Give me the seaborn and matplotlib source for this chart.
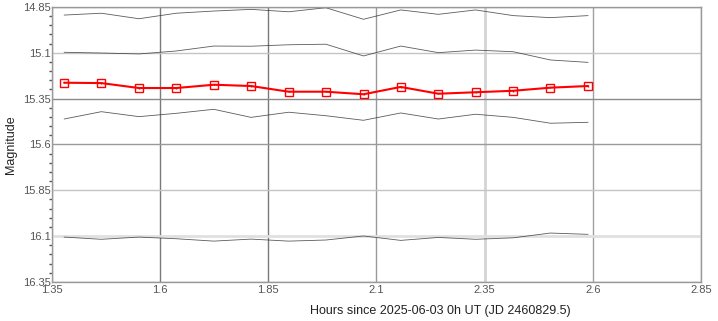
import pandas as pd
import numpy as np
import matplotlib
matplotlib.use("Agg")
import matplotlib.pyplot as plt
import seaborn as sns

# ================================
# Data
# ================================

hours = [1.378, 1.464, 1.551, 1.637, 1.724, 1.810, 1.897, 1.983,
         2.070, 2.156, 2.243, 2.329, 2.416, 2.502, 2.589]

target_mag = [15.263, 15.265, 15.292, 15.292, 15.274, 15.281, 15.312, 15.312,
              15.326, 15.286, 15.323, 15.315, 15.307, 15.290, 15.281]
target_err = [0.004, 0.004, 0.004, 0.004, 0.004, 0.004, 0.004, 0.004,
              0.004, 0.006, 0.004, 0.004, 0.004, 0.004, 0.004]

comp1_mag = [14.894, 14.884, 14.914, 14.884, 14.872, 14.863, 14.876, 14.854,
             14.917, 14.866, 14.890, 14.866, 14.897, 14.908, 14.897]
comp2_mag = [15.097, 15.101, 15.106, 15.090, 15.063, 15.064, 15.056, 15.053,
             15.117, 15.063, 15.099, 15.085, 15.094, 15.139, 15.152]
comp3_mag = [15.461, 15.421, 15.448, 15.430, 15.408, 15.452, 15.424, 15.443,
             15.468, 15.428, 15.461, 15.435, 15.452, 15.484, 15.479]
comp4_mag = [16.105, 16.117, 16.105, 16.114, 16.127, 16.116, 16.127, 16.121,
             16.099, 16.123, 16.107, 16.117, 16.109, 16.083, 16.090]

x_ticks = [1.35, 1.6, 1.85, 2.1, 2.35, 2.6, 2.85]
y_ticks = [14.85, 15.1, 15.35, 15.6, 15.85, 16.1, 16.35]

# ================================
# Long form table
# ================================

comp_df = pd.DataFrame({
    "Hours": hours * 4,
    "Magnitude": comp1_mag + comp2_mag + comp3_mag + comp4_mag,
    "Star": ["C1"] * 15 + ["C2"] * 15 + ["C3"] * 15 + ["C4"] * 15,
})

target_df = pd.DataFrame({"Hours": hours, "Magnitude": target_mag})

# ================================
# Plot
# ================================

sns.set_theme(style="white")
plt.rcParams["font.family"] = ["Liberation Sans", "DejaVu Sans"]

fig, ax = plt.subplots(figsize=(7.18, 3.21), dpi=100)
fig.subplots_adjust(left=52 / 718, right=701 / 718, bottom=1 - 282 / 321, top=1 - 7 / 321)

sns.lineplot(
    data=comp_df, x="Hours", y="Magnitude", units="Star", estimator=None,
    color="#333333", linewidth=0.6, alpha=0.8, ax=ax, legend=False
)

ax.errorbar(hours, target_mag, yerr=target_err, fmt="none",
            ecolor="red", elinewidth=1, capsize=0, zorder=4)

sns.lineplot(
    data=target_df, x="Hours", y="Magnitude", color="red", linewidth=1.5,
    marker="s", markersize=6, markerfacecolor="none", markeredgecolor="red",
    markeredgewidth=1, ax=ax, zorder=5
)

ax.set_xlim(1.35, 2.85)
ax.set_ylim(16.35, 14.85)
ax.set_xticks(x_ticks)
ax.set_xticklabels(["1.35", "1.6", "1.85", "2.1", "2.35", "2.6", "2.85"])
ax.set_yticks(y_ticks)
ax.set_yticklabels(["14.85", "15.1", "15.35", "15.6", "15.85", "16.1", "16.35"])
ax.set_yticks(np.arange(14.85, 16.36, 0.05), minor=True)

ax.grid(True, axis="both", linewidth=1)
x_grid_colors = ["#999999", "#7a7a7a", "#7a7a7a", "#999999", "#d4d4d4", "#a0a0a0", "#999999"]
y_grid_colors = ["#999999", "#c4c4c4", "#8a8a8a", "#9a9a9a", "#c4c4c4", "#e0e0e0", "#999999"]
for line, c in zip(ax.get_xgridlines(), x_grid_colors):
    line.set_color(c)
for line, c in zip(ax.get_ygridlines(), y_grid_colors):
    line.set_color(c)
ax.get_xgridlines()[4].set_linewidth(2)
ax.get_ygridlines()[5].set_linewidth(2)

for s in ax.spines.values():
    s.set_color("#999999")
    s.set_linewidth(1)

ax.tick_params(axis="y", which="major", length=0, labelsize=8,
               labelcolor="#555555", pad=1)
ax.tick_params(axis="y", which="minor", direction="out", length=2, width=1,
               color="#555555", left=True)
ax.tick_params(axis="x", which="major", length=0, labelsize=8,
               labelcolor="#555555", pad=2)

ax.set_xlabel("Hours since 2025-06-03 0h UT (JD 2460829.5)", fontsize=9, color="#222222")
ax.set_ylabel("Magnitude", fontsize=9, color="#222222")
ax.xaxis.set_label_coords(0.598, -0.084)
ax.yaxis.set_label_coords(-0.054, 0.5)

plt.savefig("out.png", dpi=100)
